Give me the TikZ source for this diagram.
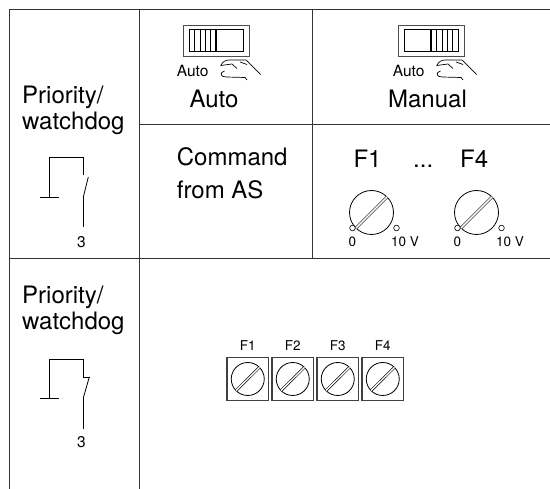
\documentclass[tikz,border=0pt]{standalone}
\usepackage{fontspec}
\setmainfont{TeX Gyre Heros}
\usepackage{tikz}

\tikzset{
  grid line/.style={draw=black!80, line width=1pt},
  part/.style={line width=0.8pt},
  big text/.style={font=\fontsize{24}{28}\selectfont, inner sep=0pt},
  small text/.style={font=\fontsize{15.5}{18}\selectfont, inner sep=0pt},
  tiny text/.style={font=\fontsize{13.5}{15}\selectfont, inner sep=0pt}
}

\begin{document}
\begin{tikzpicture}[x=1pt, y=-1pt]
    \useasboundingbox (0,0) rectangle (550,489);

    % Table lines
    \draw[grid line] (9.5,489) -- (9.5,9.5) -- (550,9.5);
    \draw[grid line] (139,9.5) -- (139,489);
    \draw[grid line] (312,9.5) -- (312,258.5);
    \draw[grid line] (139,124.5) -- (550,124.5);
    \draw[grid line] (9.5,258.5) -- (550,258.5);

    % Left column texts
    \node[big text, anchor=base west] (prio1) at (22,104) {Priority/};
    \node[big text, anchor=base west] (dog1) at (22,129.5) {watchdog};
    \node[big text, anchor=base west] (prio2) at (22,304) {Priority/};
    \node[big text, anchor=base west] (dog2) at (22,330) {watchdog};

    % Relay contact, top
    \draw[part] (40,197) -- (58.5,197);
    \draw[part] (49.3,197) -- (49.3,157) -- (83.3,157) -- (83.3,175);
    \draw[part] (83.3,197) -- (88.3,177);
    \draw[part] (83.3,197) -- (83.3,227);
    \node[small text] (pin1) at (81.5,242) {3};

    % Relay contact, bottom
    \draw[part] (40,398) -- (58.5,398);
    \draw[part] (49.3,398) -- (49.3,359) -- (83.3,359) -- (83.3,377) -- (90,377);
    \draw[part] (89.3,377) -- (83.3,398);
    \draw[part] (83.3,398) -- (83.3,429);
    \node[small text] (pin2) at (81.5,442) {3};

    % Slide switch, Auto
    \draw[part, draw=black!70] (183,25) rectangle (249,56);
    \draw[part] (189,29.5) rectangle (243,51.5);
    \draw[line width=1.8pt] (216,29.5) -- (216,51.5);
    \foreach \hx in {194.4,199.8,205.2,210.6}
        \draw[line width=0.6pt] (\hx,29.5) -- (\hx,51.5);

    % Slide switch, Manual
    \draw[part, draw=black!70] (398,25) rectangle (464,56);
    \draw[part] (404,29.5) rectangle (458,51.5);
    \draw[line width=1.8pt] (431,29.5) -- (431,51.5);
    \foreach \hx in {436.4,441.8,447.2,452.6}
        \draw[line width=0.6pt] (\hx,29.5) -- (\hx,51.5);

    % Hands
    \foreach \sx in {0,216}{
        \begin{scope}[shift={(\sx,0)}, line width=0.7pt]
            \draw (220.7,65.5) .. controls (223,61) and (226,60) .. (230,60) -- (246,60) -- (260.7,74.5);
            \draw (220.7,65.5) -- (232,64) -- (237,68.5);
            \draw (224.5,71) .. controls (219.5,72.5) and (220,77) .. (226,77) -- (245,77.5) -- (247,80);
            \draw (240,62) -- (247,64.5);
        \end{scope}
    }

    % Small and big labels of the top cells
    \node[small text, anchor=base west] (auto1) at (176.7,77) {Auto};
    \node[small text, anchor=base west] (auto2) at (392.7,77) {Auto};
    \node[big text, anchor=base] (mode1) at (214,108) {Auto};
    \node[big text, anchor=base] (mode2) at (427.5,108) {Manual};

    % Command cell
    \node[big text, anchor=base west] (cmd) at (176.7,166) {Command};
    \node[big text, anchor=base west] (from) at (176.7,199) {from AS};

    % Potentiometers F1 ... F4
    \node[big text, anchor=base west] (fa) at (353.3,168) {F1};
    \node[big text, anchor=base west] (dots) at (413,168) {...};
    \node[big text, anchor=base west] (fb) at (460,168) {F4};
    \foreach \kx/\kn in {371.5/1,476.5/4}{
        \draw[part] (\kx,212.5) circle[radius=22];
        \draw[line width=0.6pt, double, double distance=1.6pt] (\kx-15.6,228.1) -- (\kx+15.6,196.9);
        \draw[line width=0.6pt, fill=white] (\kx-19,228) circle[radius=2.8];
        \draw[line width=0.6pt, fill=white] (\kx+25,228) circle[radius=2.8];
        \node[tiny text] (zero\kn) at (\kx-19,241.5) {0};
        \node[tiny text, anchor=west] (ten\kn) at (\kx+19.5,241.5) {10 V};
    }

    % Terminal block
    \foreach \i [evaluate=\i as \tx using 227+45*(\i-1)] in {1,...,4}{
        \draw[draw=black!75, line width=1.1pt] (\tx,357.5) rectangle ++(41.5,43);
        \draw[part] (\tx+20.75,379) circle[radius=16.5];
        \draw[line width=0.6pt, double, double distance=1.4pt] (\tx+9,390.7) -- (\tx+32.5,367.3);
        \node[tiny text] (f\i) at (\tx+20.75,345.7) {F\i};
    }
\end{tikzpicture}
\end{document}
